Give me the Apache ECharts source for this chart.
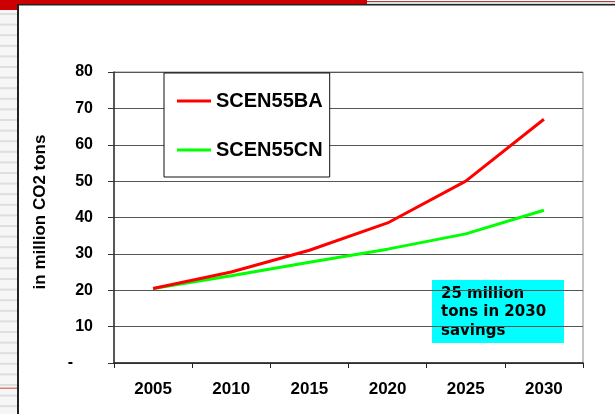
<!DOCTYPE html>
<html>
<head>
<meta charset="utf-8">
<script src="https://cdn.jsdelivr.net/npm/echarts@6/dist/echarts.min.js"></script>
<style>
  html, body { margin: 0; padding: 0; background: #ffffff; }
  #chart { width: 615px; height: 414px; }
</style>
</head>
<body>
<div id="chart"></div>
<script>
// Emission scenarios, million tons of CO2
const years = ['2005', '2010', '2015', '2020', '2025', '2030'];
const scen55ba = [20.5, 25, 31, 38.5, 50, 67];
const scen55cn = [20.5, 24, 27.7, 31.3, 35.5, 42];
const seriesNames = ['SCEN55BA', 'SCEN55CN'];
const yTicks = { min: 0, max: 80, step: 10 };
const axisTitle = 'in million CO2 tons';
const noteLines = ['25 million', 'tons in 2030', 'savings'];

const chart = echarts.init(document.getElementById('chart'), null, { renderer: 'canvas' });

// slide frame: red header strip, striped left margin, dark panel edge
const frame = [
  { type: 'rect', shape: { x: 0, y: 0, width: 367, height: 4.5 }, style: { fill: '#cc0000' }, z: 0 },
  { type: 'rect', shape: { x: 0, y: 0, width: 17, height: 10 }, style: { fill: '#cc0000' }, z: 0 },
  { type: 'rect', shape: { x: 367, y: 1, width: 248, height: 1 }, style: { fill: '#b04040' }, z: 0 },
  { type: 'rect', shape: { x: 367, y: 2, width: 248, height: 2 }, style: { fill: '#dddddd' }, z: 0 },
  { type: 'rect', shape: { x: 0, y: 10, width: 17, height: 404 }, style: { fill: '#f6f6f6' }, z: 0 }
];
for (let y = 13; y < 414; y += 10.6) {
  frame.push({ type: 'rect', shape: { x: 0, y: y, width: 17, height: 2 }, style: { fill: '#dedede' }, z: 0 });
}
frame.push(
  { type: 'rect', shape: { x: 0, y: 387.5, width: 17, height: 1.5 }, style: { fill: '#e07a7a' }, z: 1 },
  { type: 'rect', shape: { x: 17, y: 4, width: 2, height: 410 }, style: { fill: '#222222' }, z: 1 },
  { type: 'rect', shape: { x: 17, y: 4, width: 598, height: 1.5 }, style: { fill: '#222222' }, z: 1 }
);

const option = {
  animation: false,
  backgroundColor: '#ffffff',
  grid: {
    left: 114, right: 32, top: 72, bottom: 51,
    show: true, borderColor: '#8a8a8a', borderWidth: 1, backgroundColor: 'transparent'
  },
  legend: {
    orient: 'vertical',
    left: 164, top: 73,
    data: seriesNames,
    icon: 'rect',
    itemWidth: 34, itemHeight: 3,
    itemGap: 27,
    padding: [17, 7, 16, 13],
    backgroundColor: '#ffffff',
    borderColor: '#111111', borderWidth: 1,
    textStyle: {
      fontFamily: 'Liberation Sans, Arial, sans-serif',
      fontWeight: 'bold', fontSize: 20, color: '#000000', lineHeight: 22
    }
  },
  xAxis: {
    type: 'category',
    data: years,
    boundaryGap: true,
    axisLine: { lineStyle: { color: '#222222', width: 1.5 } },
    axisTick: { show: true, length: 5, lineStyle: { color: '#222222' } },
    axisLabel: {
      margin: 18,
      fontFamily: 'Liberation Sans, Arial, sans-serif',
      fontWeight: 'bold', fontSize: 17, color: '#000000'
    },
    splitLine: { show: false }
  },
  yAxis: {
    type: 'value',
    min: yTicks.min, max: yTicks.max, interval: yTicks.step,
    axisLine: { show: true, lineStyle: { color: '#333333', width: 1.5 } },
    axisTick: { show: true, inside: false, length: 6, lineStyle: { color: '#333333' } },
    axisLabel: {
      margin: 21,
      fontFamily: 'Liberation Sans, Arial, sans-serif',
      fontWeight: 'bold', fontSize: 16, color: '#000000',
      formatter: v => (v === 0 ? '{dash|-}' : String(v)),
      rich: {
        dash: {
          fontFamily: 'Liberation Sans, Arial, sans-serif',
          fontWeight: 'bold', fontSize: 16, color: '#000000',
          padding: [0, 20, 0, 0]
        }
      }
    },
    splitLine: { show: true, lineStyle: { color: '#555555', width: 1 } }
  },
  series: [
    {
      name: seriesNames[0], type: 'line', data: scen55ba,
      showSymbol: false, symbol: 'none', smooth: false,
      lineStyle: { color: '#ff0000', width: 3 }, itemStyle: { color: '#ff0000' }, z: 3
    },
    {
      name: seriesNames[1], type: 'line', data: scen55cn,
      showSymbol: false, symbol: 'none', smooth: false,
      lineStyle: { color: '#00ff00', width: 3 }, itemStyle: { color: '#00ff00' }, z: 2
    }
  ],
  graphic: frame.concat([
    {
      type: 'text',
      x: 40, y: 212,
      rotation: Math.PI / 2,
      style: {
        text: axisTitle,
        fontFamily: 'Liberation Sans, Arial, sans-serif',
        fontWeight: 'bold', fontSize: 17, fill: '#000000',
        align: 'center', verticalAlign: 'middle'
      },
      z: 5
    },
    {
      type: 'group',
      x: 432, y: 280,
      z: 10,
      children: [
        { type: 'rect', shape: { x: 0, y: 0, width: 132, height: 63 }, style: { fill: '#00ffff' } },
        {
          type: 'text', x: 9, y: 4.5,
          style: {
            text: noteLines.join('\n'),
            fontFamily: 'DejaVu Sans, Verdana, sans-serif',
            fontWeight: 'bold', fontSize: 15, lineHeight: 18.5, fill: '#000000',
            align: 'left', verticalAlign: 'top'
          }
        }
      ]
    }
  ])
};

chart.setOption(option);
</script>
</body>
</html>
